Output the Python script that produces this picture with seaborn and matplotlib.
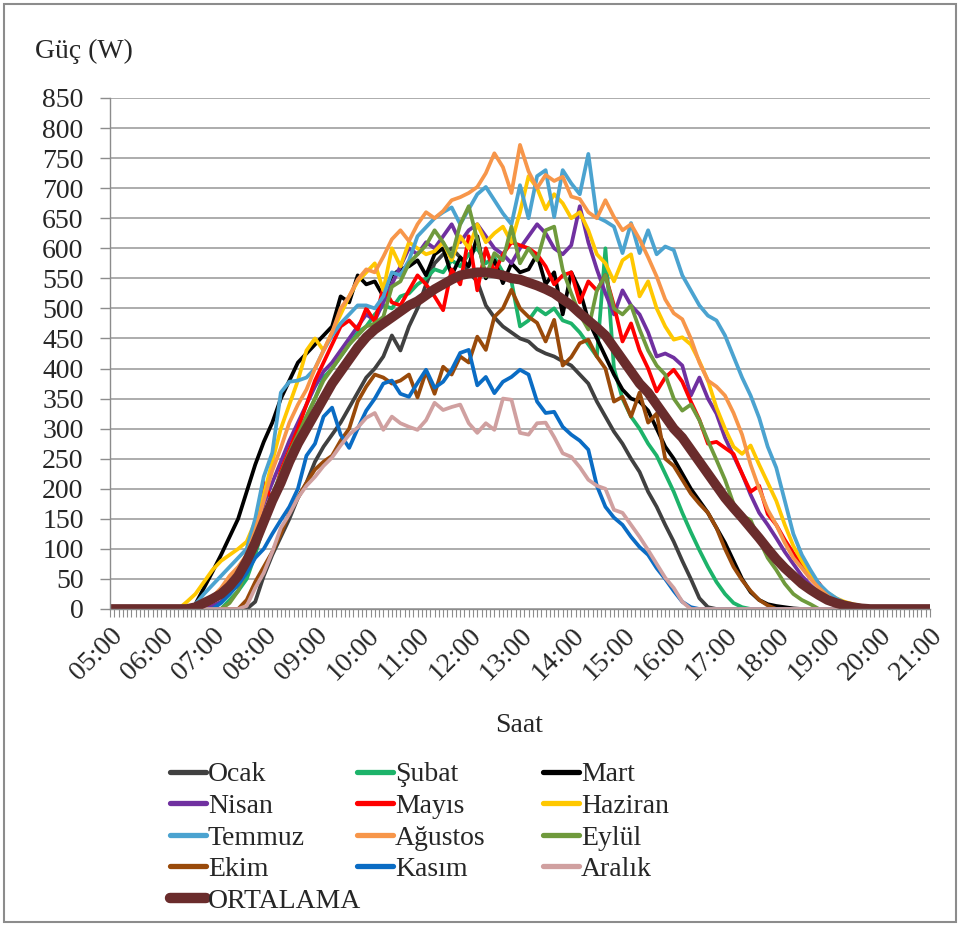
import numpy as np
import pandas as pd
import seaborn as sns
import matplotlib.pyplot as plt
from matplotlib.lines import Line2D
from matplotlib.patches import Rectangle

# 10 dakikalik veriler, 05:00 - 21:00 (sifir olmayan kisim + baslangic saati)
ocak_start = "07:40"
ocak = [0, 12, 55, 90, 120, 150, 185, 210, 245, 270, 290, 310, 335, 360, 385, 400, 420, 455, 430, 470,
        500, 540, 575, 590, 600, 585, 560, 545, 505, 485, 470, 460, 450, 445, 432, 425, 420, 412, 405, 390,
        375, 345, 320, 295, 275, 250, 228, 195, 170, 140, 112, 80, 50, 18, 3, 0]
subat_start = "07:10"
subat = [0, 15, 30, 50, 90, 140, 185, 220, 255, 290, 320, 350, 385, 400, 420, 440, 460, 470, 490, 505,
         500, 520, 525, 540, 550, 565, 560, 580, 570, 590, 600, 575, 585, 560, 545, 470, 480, 500, 490, 500,
         480, 475, 460, 440, 420, 600, 400, 350, 320, 300, 275, 255, 225, 195, 160, 128, 98, 70, 45, 25,
         10, 3, 0]
mart_start = "06:30"
mart = [0, 8, 35, 62, 90, 120, 150, 195, 240, 278, 310, 350, 380, 410, 425, 440, 455, 470, 520, 510,
        555, 540, 545, 520, 555, 565, 570, 580, 555, 590, 600, 555, 585, 570, 620, 550, 580, 542, 575, 560,
        565, 590, 540, 560, 490, 560, 530, 480, 450, 420, 390, 365, 350, 345, 330, 300, 270, 250, 225, 200,
        180, 160, 135, 110, 80, 50, 28, 15, 8, 5, 3, 1, 0]
nisan_start = "06:50"
nisan = [0, 5, 12, 25, 45, 80, 130, 175, 210, 245, 280, 310, 340, 370, 395, 410, 430, 450, 470, 490,
         480, 510, 540, 570, 600, 590, 610, 600, 620, 640, 610, 630, 640, 620, 600, 590, 575, 600, 620, 640,
         625, 600, 590, 605, 670, 610, 565, 525, 490, 530, 505, 490, 460, 420, 425, 418, 405, 355, 385, 350,
         325, 285, 255, 225, 190, 160, 140, 118, 95, 75, 55, 40, 27, 14, 5, 0]
mayis_start = "06:40"
mayis = [0, 5, 12, 22, 35, 55, 85, 130, 210, 180, 230, 265, 300, 340, 380, 410, 440, 470, 480, 465,
         500, 478, 535, 510, 505, 530, 555, 540, 520, 497, 565, 540, 620, 530, 600, 560, 590, 610, 605, 600,
         590, 570, 540, 555, 560, 510, 545, 530, 555, 505, 445, 475, 430, 400, 362, 385, 398, 378, 345, 315,
         275, 278, 268, 258, 225, 195, 205, 158, 140, 115, 93, 72, 55, 43, 22, 8, 0]
haziran_start = "06:20"
haziran = [0, 12, 25, 45, 65, 80, 90, 100, 112, 145, 190, 245, 300, 340, 380, 430, 450, 430, 460, 490,
           520, 545, 560, 575, 530, 600, 570, 610, 600, 590, 595, 610, 580, 620, 600, 640, 610, 625, 636, 610,
           660, 720, 700, 665, 690, 675, 650, 660, 630, 590, 575, 545, 580, 590, 520, 545, 500, 470, 448, 452,
           440, 412, 380, 335, 300, 270, 258, 272, 240, 210, 180, 140, 105, 80, 58, 40, 27, 18, 12, 8,
           5, 2, 0]
temmuz_start = "06:30"
temmuz = [0, 8, 25, 40, 55, 70, 85, 100, 150, 220, 260, 360, 378, 380, 385, 400, 430, 455, 475, 490,
          505, 505, 500, 520, 560, 555, 580, 620, 635, 650, 660, 668, 640, 665, 690, 702, 680, 658, 640, 705,
          650, 720, 730, 652, 730, 708, 690, 757, 652, 645, 636, 592, 642, 592, 630, 590, 603, 597, 555, 530,
          505, 488, 480, 455, 420, 385, 355, 318, 270, 235, 180, 125, 90, 65, 42, 28, 18, 10, 5, 2, 0]
agustos_start = "06:40"
agustos = [0, 5, 20, 35, 55, 70, 90, 130, 180, 230, 268, 310, 340, 365, 400, 430, 460, 500, 520, 548,
           565, 560, 586, 615, 630, 612, 640, 660, 650, 662, 680, 685, 692, 702, 725, 758, 735, 692, 772, 728,
           700, 722, 712, 719, 686, 682, 660, 650, 680, 652, 630, 640, 615, 585, 553, 515, 492, 482, 450, 410,
           380, 370, 355, 326, 290, 240, 200, 165, 140, 110, 85, 68, 50, 35, 22, 12, 6, 2, 0]
eylul_start = "07:10"
eylul = [0, 10, 30, 65, 105, 150, 190, 225, 260, 290, 320, 350, 380, 400, 420, 440, 455, 470, 475, 486,
         536, 545, 575, 590, 605, 630, 610, 586, 640, 670, 614, 553, 592, 580, 636, 575, 600, 580, 630, 636,
         564, 525, 490, 465, 530, 555, 500, 490, 505, 465, 430, 405, 390, 350, 330, 340, 314, 280, 248, 215,
         175, 155, 148, 115, 85, 65, 42, 25, 15, 8, 0]
ekim_start = "07:30"
ekim = [0, 15, 45, 70, 95, 125, 160, 185, 210, 232, 245, 255, 280, 300, 345, 370, 390, 385, 375, 380,
        390, 352, 395, 358, 403, 390, 420, 410, 453, 431, 486, 500, 531, 500, 486, 476, 445, 481, 405, 419,
        442, 448, 420, 400, 345, 353, 320, 360, 310, 325, 250, 238, 215, 192, 175, 160, 135, 100, 70, 48,
        30, 15, 6, 0]
kasim_start = "07:00"
kasim = [0, 10, 25, 40, 60, 85, 100, 125, 148, 170, 200, 255, 275, 320, 335, 290, 268, 300, 330, 350,
         375, 380, 358, 353, 376, 398, 368, 378, 398, 426, 431, 372, 386, 359, 378, 386, 398, 390, 345, 326,
         328, 303, 290, 280, 265, 205, 170, 152, 140, 120, 103, 90, 68, 50, 30, 12, 3, 0]
aralik_start = "07:30"
aralik = [0, 5, 35, 60, 95, 135, 158, 185, 205, 220, 238, 252, 272, 290, 302, 318, 326, 298, 320, 309,
          303, 298, 314, 343, 331, 336, 340, 309, 293, 309, 298, 350, 348, 293, 290, 309, 310, 286, 259, 253,
          236, 215, 205, 200, 165, 160, 140, 120, 98, 75, 52, 35, 12, 0]
ortalama_start = "06:30"
ortalama = [0, 3, 10, 17, 25, 38, 55, 80, 110, 145, 180, 210, 245, 275, 300, 325, 350, 375, 395, 415,
            435, 452, 465, 475, 485, 495, 505, 512, 522, 532, 540, 548, 555, 558, 560, 560, 558, 555, 550, 548,
            543, 538, 532, 525, 515, 505, 492, 480, 468, 455, 435, 415, 395, 375, 360, 340, 320, 300, 285, 265,
            245, 225, 205, 185, 168, 152, 135, 118, 100, 83, 68, 55, 42, 32, 23, 15, 10, 6, 3, 1, 0]

months = ["Ocak", "Şubat", "Mart", "Nisan", "Mayıs", "Haziran",
          "Temmuz", "Ağustos", "Eylül", "Ekim", "Kasım", "Aralık"]
colors = ["#404040", "#1db36a", "#000000", "#7030a0", "#ff0000", "#ffc800",
          "#4ba3d0", "#f7964a", "#6f9a3c", "#994a0a", "#0a6cc4", "#d0a0a0"]
avg_color = "#6a2c2c"
hour_labels = ["%02d:00" % h for h in range(5, 22)]

series = [(ocak_start, ocak), (subat_start, subat), (mart_start, mart), (nisan_start, nisan),
          (mayis_start, mayis), (haziran_start, haziran), (temmuz_start, temmuz),
          (agustos_start, agustos), (eylul_start, eylul), (ekim_start, ekim),
          (kasim_start, kasim), (aralik_start, aralik)]

n = 97
saat = [5 + i / 6 for i in range(n)]


def pad(start, vals):
    h, m = map(int, start.split(":"))
    i0 = ((h - 5) * 60 + m) // 10
    y = [0] * n
    y[i0:i0 + len(vals)] = vals
    return y


rows = []
for name, (st, vals) in zip(months, series):
    for x, v in zip(saat, pad(st, vals)):
        rows.append((name, x, v))
df = pd.DataFrame(rows, columns=["ay", "saat", "guc"])
df_avg = pd.DataFrame({"saat": saat, "guc": pad(ortalama_start, ortalama)})

sns.set_theme(style="white")
plt.rcParams["font.family"] = ["Liberation Serif", "DejaVu Serif"]

fig = plt.figure(figsize=(9.61, 9.27), dpi=100)
ax = fig.add_axes([110 / 961, 318 / 927, 820 / 961, 511 / 927])

sns.lineplot(data=df, x="saat", y="guc", hue="ay", hue_order=months,
             palette=dict(zip(months, colors)), estimator=None, sort=False,
             linewidth=2.7, legend=False, ax=ax, solid_joinstyle="round")
sns.lineplot(data=df_avg, x="saat", y="guc", color=avg_color, linewidth=7,
             estimator=None, legend=False, ax=ax, solid_joinstyle="round",
             solid_capstyle="round")

ax.set_xlim(5, 21)
ax.set_ylim(0, 850)
ax.set_yticks(range(0, 851, 50))
ax.set_xticks(range(5, 22))
ax.set_xticklabels(hour_labels, rotation=45, ha="right", va="top",
                   rotation_mode="anchor")
ax.set_xticks(np.arange(5, 21.001, 1 / 12), minor=True)
ax.grid(axis="y", color="#9e9e9e", linewidth=1.2)
ax.set_axisbelow(True)
for s in ["top", "right"]:
    ax.spines[s].set_visible(False)
for s in ["left", "bottom"]:
    ax.spines[s].set_color("#8c8c8c")
    ax.spines[s].set_linewidth(1.0)
ax.tick_params(axis="y", which="major", direction="out", length=7, width=1,
               color="#8c8c8c", pad=12, labelsize=20, left=True)
ax.tick_params(axis="x", which="both", direction="out", length=6, width=0.8,
               color="#8c8c8c", pad=4, labelsize=20, bottom=True)
ax.set_xlabel("")
ax.set_ylabel("")

fig.text(35 / 961, 1 - 51 / 927, "Güç (W)", fontsize=20, ha="left", va="center")
fig.text(519 / 961, 1 - 725 / 927, "Saat", fontsize=20, ha="center", va="center")

# legend: 3 ayri sutun
handles = {m: Line2D([], [], color=c, lw=3.8) for m, c in zip(months, colors)}
handles["ORTALAMA"] = Line2D([], [], color=avg_color, lw=7.5, solid_capstyle="round")
cols = [["Ocak", "Nisan", "Temmuz", "Ekim", "ORTALAMA"],
        ["Şubat", "Mayıs", "Ağustos", "Kasım"],
        ["Mart", "Haziran", "Eylül", "Aralık"]]
col_x = [170, 357, 543]
for xs, names in zip(col_x, cols):
    fig.legend([handles[m] for m in names], names, loc="upper left",
               bbox_to_anchor=(xs / 961, 1 - 762 / 927), frameon=False,
               fontsize=20, handlelength=1.3, handletextpad=0.06,
               labelspacing=0.22, borderpad=0, borderaxespad=0)

fig.patches.append(Rectangle((4 / 961, 1 - 922 / 927), 952 / 961, 918 / 927,
                             transform=fig.transFigure, fill=False,
                             edgecolor="#8c8c8c", linewidth=1.5))

fig.savefig("out.png", dpi=100)
